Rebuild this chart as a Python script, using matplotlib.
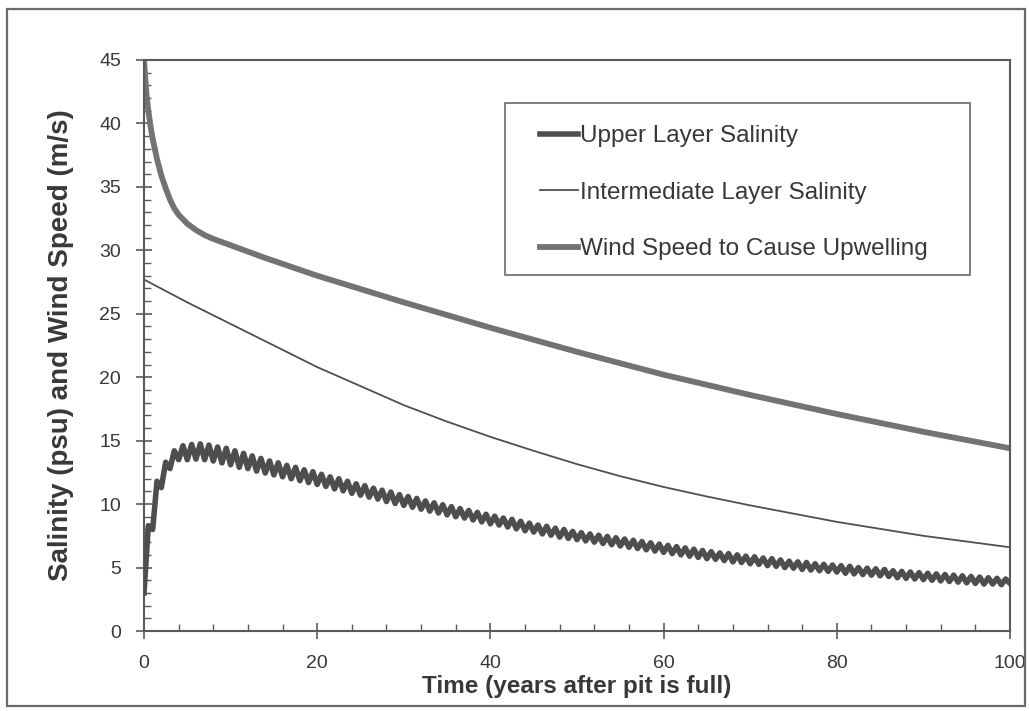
import numpy as np
import matplotlib
matplotlib.use("Agg")
import matplotlib.pyplot as plt
from matplotlib.patches import Rectangle
from matplotlib.ticker import MultipleLocator

# ---------------- data ----------------
# Upper layer salinity, sampled every half year (0, 0.5, 1.0, ... 100)
upper_time = np.arange(0, 100.01, 0.5)
upper_salinity = [
    3.0, 8.3, 8.0, 11.8, 11.3, 13.3, 12.8, 14.2, 13.5, 14.6,
    13.5, 14.7, 13.55, 14.75, 13.5, 14.65, 13.4, 14.5, 13.25, 14.4,
    13.1, 14.2, 12.9, 14.0, 12.8, 13.8, 12.6, 13.6, 12.45, 13.4,
    12.3, 13.25, 12.15, 13.05, 12.0, 12.9, 11.85, 12.7, 11.7, 12.55,
    11.55, 12.35, 11.4, 12.15, 11.2, 12.0, 11.05, 11.8, 10.85, 11.6,
    10.7, 11.45, 10.55, 11.25, 10.4, 11.1, 10.2, 10.95, 10.05, 10.75,
    9.9, 10.6, 9.75, 10.45, 9.6, 10.25, 9.45, 10.1, 9.3, 9.95,
    9.15, 9.8, 9.0, 9.65, 8.9, 9.5, 8.75, 9.35, 8.6, 9.2,
    8.45, 9.05, 8.35, 8.9, 8.2, 8.8, 8.05, 8.65, 7.9, 8.5,
    7.8, 8.35, 7.65, 8.25, 7.55, 8.1, 7.4, 8.0, 7.3, 7.85,
    7.2, 7.75, 7.1, 7.65, 7.0, 7.55, 6.9, 7.45, 6.8, 7.35,
    6.7, 7.25, 6.6, 7.15, 6.5, 7.05, 6.4, 6.95, 6.3, 6.85,
    6.2, 6.75, 6.1, 6.65, 6.0, 6.55, 5.9, 6.45, 5.8, 6.35,
    5.7, 6.25, 5.65, 6.15, 5.55, 6.1, 5.45, 6.0, 5.4, 5.9,
    5.3, 5.85, 5.25, 5.75, 5.15, 5.7, 5.1, 5.6, 5.0, 5.5,
    4.95, 5.45, 4.85, 5.4, 4.8, 5.3, 4.75, 5.25, 4.7, 5.2,
    4.65, 5.15, 4.55, 5.1, 4.5, 5.0, 4.45, 4.95, 4.4, 4.9,
    4.35, 4.85, 4.3, 4.75, 4.2, 4.7, 4.15, 4.65, 4.1, 4.6,
    4.05, 4.55, 4.0, 4.5, 3.95, 4.45, 3.9, 4.4, 3.85, 4.35,
    3.8, 4.3, 3.75, 4.25, 3.7, 4.2, 3.7, 4.15, 3.65, 4.1,
    3.75,
]

# Intermediate layer salinity
inter_time = [0, 2.5, 5, 7.5, 10, 12.5, 15, 17.5, 20, 25, 30, 35, 40, 45, 50,
              55, 60, 65, 70, 75, 80, 85, 90, 95, 100]
inter_salinity = [27.7, 26.8, 25.9, 25.05, 24.2, 23.35, 22.5, 21.65, 20.8, 19.3, 17.8,
                  16.5, 15.3, 14.2, 13.15, 12.2, 11.35, 10.6, 9.9, 9.25, 8.6, 8.05,
                  7.5, 7.05, 6.6]

# Wind speed required to cause upwelling
wind_time = [0, 0.15, 0.3, 0.5, 0.75, 1.0, 1.5, 2.0, 2.5, 3.0, 3.5, 4, 5, 6, 7, 8,
             10, 12, 14, 17, 20, 25, 30, 35, 40, 45, 50, 55, 60, 65, 70, 75, 80,
             85, 90, 95, 100]
wind_speed = [45.0, 43.5, 42.2, 41.0, 39.8, 38.8, 37.2, 35.9, 34.9, 34.0, 33.3, 32.8,
              32.1, 31.6, 31.2, 30.9, 30.4, 29.9, 29.4, 28.7, 28.0, 26.95, 25.9,
              24.9, 23.9, 22.95, 22.0, 21.1, 20.2, 19.4, 18.6, 17.85, 17.1, 16.4,
              15.7, 15.05, 14.4]

series_labels = ["Upper Layer Salinity", "Intermediate Layer Salinity",
                 "Wind Speed to Cause Upwelling"]
x_ticks = [0, 20, 40, 60, 80, 100]
y_ticks = [0, 5, 10, 15, 20, 25, 30, 35, 40, 45]

# ---------------- figure ----------------
plt.rcParams['font.family'] = ['Liberation Sans', 'DejaVu Sans']
TXT = '#383838'
AX = '#5a5a5a'

W, H = 1029, 711
fig = plt.figure(figsize=(W/100, H/100), dpi=100)
L, R, T, B = 144, 1010, 60, 631
ax = fig.add_axes([L/W, 1-B/H, (R-L)/W, (B-T)/H])

def ax_x(px):
    return (px - L) / (R - L)

def ax_y(py):
    return (B - py) / (B - T)

# outer frame of the scanned figure
fig.patches.append(Rectangle((7/W, 1-706/H), (1025-7)/W, (706-9)/H,
                             transform=fig.transFigure, fill=False,
                             edgecolor='#6a6a6a', linewidth=1.6))

l1, = ax.plot(upper_time, upper_salinity, color='#4e4e4e', lw=4.0,
              solid_joinstyle='round', label=series_labels[0], zorder=3)
l2, = ax.plot(inter_time, inter_salinity, color='#505050', lw=1.3,
              label=series_labels[1], zorder=2)
l3, = ax.plot(wind_time, wind_speed, color='#737373', lw=4.2,
              solid_joinstyle='round', label=series_labels[2], zorder=2)

ax.set_xlim(0, 100)
ax.set_ylim(0, 45)
ax.set_xticks(x_ticks)
ax.set_yticks(y_ticks)
ax.xaxis.set_minor_locator(MultipleLocator(4))
ax.yaxis.set_minor_locator(MultipleLocator(1))
ax.tick_params(which='major', direction='inout', length=11, width=1.2, color=AX,
               labelsize=14, labelcolor=TXT)
ax.tick_params(axis='x', which='major', pad=12)
ax.tick_params(axis='y', which='major', pad=11)
ax.tick_params(which='minor', direction='in', length=5, width=1.0, color=AX)
for s in ax.spines.values():
    s.set_color(AX)
    s.set_linewidth(1.5)

ax.set_xlabel("Time (years after pit is full)", fontsize=17.5, fontweight='bold',
              color=TXT, labelpad=2)
ax.set_ylabel("Salinity (psu) and Wind Speed (m/s)", fontsize=20, fontweight='bold',
              color=TXT)
ax.yaxis.set_label_coords(ax_x(74), 0.5)

# legend: frame drawn separately to match the original box
ax.add_patch(Rectangle((ax_x(505), ax_y(275)), ax_x(970) - ax_x(505),
                       ax_y(103) - ax_y(275), transform=ax.transAxes, fill=False,
                       edgecolor='#6a6a6a', linewidth=1.2, zorder=4))
leg = ax.legend(handles=[l1, l2, l3], loc='upper left',
                bbox_to_anchor=(ax_x(540), ax_y(125)),
                fontsize=17.5, frameon=False,
                handlelength=1.56, handletextpad=0.08, labelspacing=1.42,
                borderpad=0.0, borderaxespad=0.0)
for t in leg.get_texts():
    t.set_color(TXT)

fig.savefig("out.png", dpi=100)
